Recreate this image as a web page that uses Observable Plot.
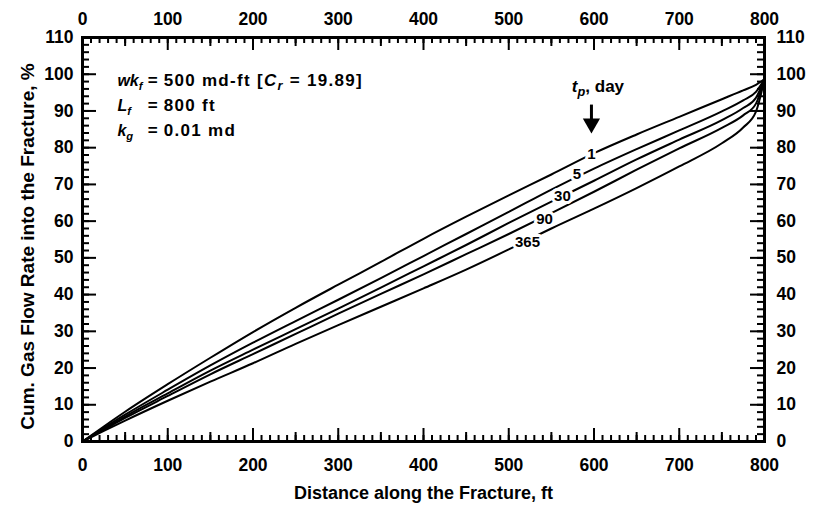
<!DOCTYPE html>
<html><head><meta charset="utf-8">
<script src="https://cdn.jsdelivr.net/npm/d3@7"></script>
<script src="https://cdn.jsdelivr.net/npm/@observablehq/plot@0.6"></script>
<style>
html,body{margin:0;padding:0;background:#fff;}
</style></head><body>
<div id="chart"></div>
<script>
// ---- data ----
const distanceFt = [0,25,50,100,150,200,250,300,350,400,450,500,550,600,650,700,750,775,790,800];
const rate1d   = [0,4.1,8.1,15.6,22.8,29.8,36.4,42.7,48.9,55.2,61.2,67.0,72.7,78.5,83.6,88.4,93.2,95.6,97.1,98.7];
const rate5d   = [0,3.7,7.3,14.1,20.7,26.9,32.8,38.6,44.5,50.5,56.5,62.5,68.6,74.3,79.6,84.7,89.9,92.9,95.2,98.7];
const rate30d  = [0,3.4,6.8,13.1,19.3,25.0,30.6,36.2,41.9,47.7,53.5,59.5,65.3,71.0,76.8,82.2,87.5,90.8,93.6,98.7];
const rate90d  = [0,3.2,6.4,12.4,18.3,23.8,29.3,34.8,40.2,45.5,51.0,56.5,62.2,68.0,74.0,79.8,85.4,88.8,92.0,98.7];
const rate365d = [0,2.9,5.7,11.1,16.3,21.3,26.6,31.7,36.7,41.7,46.8,52.3,58.0,63.4,69.0,74.9,81.2,85.5,89.8,98.7];
const seriesNames = ["1","5","30","90","365"];
const seriesValues = [rate1d, rate5d, rate30d, rate90d, rate365d];
const curveLabelX = [597, 580, 563, 542, 522];
const curveLabelY = [78.3, 72.9, 66.7, 60.6, 54.3];

const xTickLabels = [0,100,200,300,400,500,600,700,800];
const yTickLabels = [0,10,20,30,40,50,60,70,80,90,100,110];
const xMidTicks = [50,150,250,350,450,550,650,750];
const xMinorTicks = d3.range(0, 801, 10);
const yMinorTicks = d3.range(0, 111, 2);

const xTitle = "Distance along the Fracture, ft";
const yTitle = "Cum. Gas Flow Rate into the Fracture, %";

// ---- build table ----
const rows = seriesNames.flatMap((s, i) => distanceFt.map((d, j) => ({series: s, x: d, y: seriesValues[i][j]})));
const labels = seriesNames.map((s, i) => ({text: s, x: curveLabelX[i], y: curveLabelY[i]}));

const W = 814, H = 516, mL = 82, mR = 50, mT = 37, mB = 75;
const innerW = W - mL - mR, innerH = H - mT - mB;
const FONT = "'Liberation Sans', Arial, Helvetica, sans-serif";

const svg = Plot.plot({
  width: W, height: H,
  marginLeft: mL, marginRight: mR, marginTop: mT, marginBottom: mB,
  x: {domain: [0, 800]},
  y: {domain: [0, 110]},
  style: {fontFamily: FONT, fontWeight: "bold", fontSize: "17.5px", background: "white", color: "black", overflow: "visible"},
  marks: [
    // bottom ticks (inward)
    Plot.tickX(xMinorTicks, {x: d => d, insetTop: innerH - 6, strokeWidth: 2}),
    Plot.tickX(xMidTicks, {x: d => d, insetTop: innerH - 9, strokeWidth: 2}),
    Plot.tickX(xTickLabels, {x: d => d, insetTop: innerH - 13, strokeWidth: 2}),
    // top ticks
    Plot.tickX(xMinorTicks, {x: d => d, insetBottom: innerH - 6, strokeWidth: 2}),
    Plot.tickX(xMidTicks, {x: d => d, insetBottom: innerH - 9, strokeWidth: 2}),
    Plot.tickX(xTickLabels, {x: d => d, insetBottom: innerH - 13, strokeWidth: 2}),
    // left ticks
    Plot.tickY(yMinorTicks, {y: d => d, insetRight: innerW - 7, strokeWidth: 2}),
    Plot.tickY(yTickLabels, {y: d => d, insetRight: innerW - 14, strokeWidth: 2}),
    // right ticks
    Plot.tickY(yMinorTicks, {y: d => d, insetLeft: innerW - 7, strokeWidth: 2}),
    Plot.tickY(yTickLabels, {y: d => d, insetLeft: innerW - 14, strokeWidth: 2}),
    // tick labels
    Plot.axisX(xTickLabels, {anchor: "bottom", tickSize: 0, tickPadding: 17, label: null}),
    Plot.axisX(xTickLabels, {anchor: "top", tickSize: 0, tickPadding: 13, label: null}),
    Plot.axisY(yTickLabels, {anchor: "left", tickSize: 0, tickPadding: 9, label: null}),
    Plot.axisY(yTickLabels, {anchor: "right", tickSize: 0, tickPadding: 12, label: null}),
    // axis titles
    Plot.text([xTitle], {frameAnchor: "bottom", dy: 57, lineAnchor: "bottom", textAnchor: "middle", fontSize: 18, fontWeight: "bold"}),
    Plot.text([yTitle], {frameAnchor: "left", dx: -55, dy: 7, rotate: -90, textAnchor: "middle", lineAnchor: "middle", fontSize: 19, fontWeight: "bold"}),
    // curves
    Plot.line(rows, {x: "x", y: "y", z: "series", curve: "monotone-x", stroke: "black", strokeWidth: 2}),
    // curve labels with halo
    Plot.text(labels, {x: "x", y: "y", text: "text", fill: "black", stroke: "white", strokeWidth: 6, fontSize: 15, fontWeight: "bold"}),
    // arrow
    Plot.ruleX([597], {x: d => d, y1: 91.6, y2: 87.3, strokeWidth: 3}),
    Plot.dot([597], {x: d => d, y: 86.6, symbol: "triangle", rotate: 180, r: 6.4, fill: "black", stroke: null}),
    Plot.frame({strokeWidth: 3})
  ]
});

// ---- rich-text annotations positioned through the plot scales ----
const xs = svg.scale("x"), ys = svg.scale("y");
const g = d3.select(svg).append("g").attr("font-family", FONT).attr("font-weight", "bold")
  .attr("fill", "black").attr("text-anchor", "start");
function rich(xv, yv, parts, size, spacing = 0, subScale = 0.75) {
  const t = g.append("text").attr("x", xs.apply(xv)).attr("y", ys.apply(yv))
    .attr("font-size", size).attr("text-anchor", "start").attr("letter-spacing", spacing);
  let shifted = false;
  for (const p of parts) {
    const sp = t.append("tspan").text(p.t);
    if (p.i) sp.attr("font-style", "italic");
    if (p.sub) {
      sp.attr("font-size", size * subScale);
      if (!shifted) { sp.attr("dy", 4); shifted = true; }
    } else if (shifted) { sp.attr("dy", -4); shifted = false; }
  }
  return t;
}
const annLabelX = 41.5, annEqX = 77.2, annValX = 95.8;
const annY = [96.66, 89.85, 83.04];
rich(annLabelX, annY[0], [{t: "wk", i: true}, {t: "f", i: true, sub: true}], 16, 0, 0.7);
rich(annLabelX, annY[1], [{t: "L", i: true}, {t: "f", i: true, sub: true}], 16, 0, 0.7);
rich(annLabelX, annY[2], [{t: "k", i: true}, {t: "g", i: true, sub: true}], 16, 0, 0.7);
for (const y of annY) rich(annEqX, y, [{t: "="}], 17);
rich(annValX, annY[0], [{t: "500 md-ft ["}, {t: "C", i: true}, {t: "r", i: true, sub: true}, {t: " = 19.89]"}], 17, 1.3);
rich(annValX, annY[1], [{t: "800 ft"}], 17, 1.3);
rich(annValX, annY[2], [{t: "0.01 md"}], 17, 1.3);
rich(574.6, 95.0, [{t: "t", i: true}, {t: "p", i: true, sub: true}, {t: ", day"}], 17);

document.getElementById("chart").appendChild(svg);
</script>
</body></html>
